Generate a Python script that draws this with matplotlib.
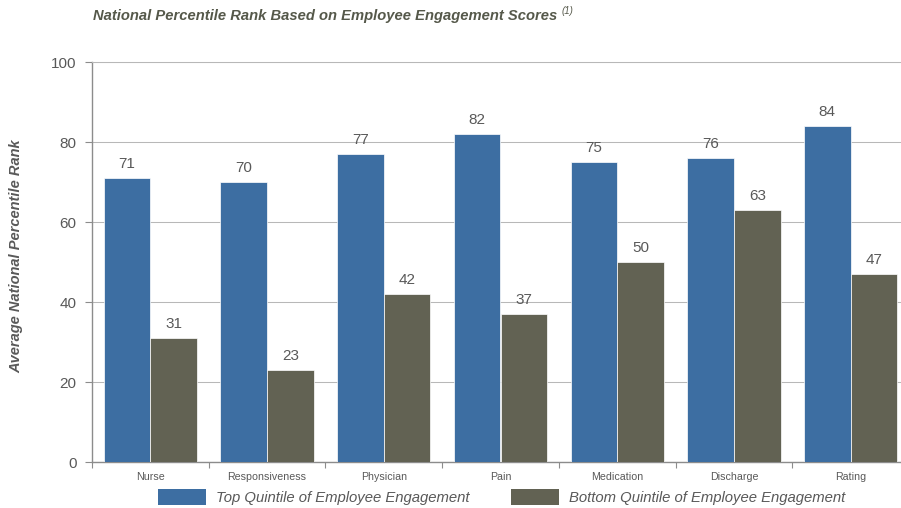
import numpy as np
import matplotlib.pyplot as plt
from matplotlib.patches import Patch

plt.rcParams['font.family'] = ['Liberation Sans', 'DejaVu Sans']

# Data
categories = ['Nurse', 'Responsiveness', 'Physician', 'Pain', 'Medication', 'Discharge', 'Rating']
top_quintile = [71, 70, 77, 82, 75, 76, 84]
bottom_quintile = [31, 23, 42, 37, 50, 63, 47]
series_names = ['Top Quintile of Employee Engagement', 'Bottom Quintile of Employee Engagement']

blue = '#3D6EA2'
grey = '#626253'
txt = '#595959'
axis_col = '#8C8C8C'
grid_col = '#B8B8B8'

W, H = 901, 508
fig = plt.figure(figsize=(W / 100, H / 100), dpi=100)
# axes run slightly past the right edge of the figure, like the original
ax = fig.add_axes([92 / W, 46 / H, 817 / W, 400 / H])

x = np.arange(len(categories))
w = 0.4
b1 = ax.bar(x - w / 2, top_quintile, w, color=blue, edgecolor='white', linewidth=0.5, zorder=3)
b2 = ax.bar(x + w / 2, bottom_quintile, w, color=grey, edgecolor='white', linewidth=0.5, zorder=3)

for bars in (b1, b2):
    for r in bars:
        ax.text(r.get_x() + r.get_width() / 2, r.get_height() + 1.8, f'{int(r.get_height())}',
                ha='center', va='bottom', fontsize=11, color=txt, zorder=4)

ax.set_ylim(0, 100)
ax.set_xlim(-0.5, 6.5)
ax.set_yticks(range(0, 101, 20))
ax.yaxis.grid(True, color=grid_col, linewidth=0.75, zorder=0)
ax.set_axisbelow(True)
ax.tick_params(axis='y', labelsize=11, labelcolor=txt, color=axis_col, length=5, direction='out', pad=6)

# category labels centered, ticks at boundaries
ax.set_xticks(np.arange(-0.5, 7, 1))
ax.set_xticklabels([])
ax.set_xticks(x, minor=True)
ax.set_xticklabels(categories, minor=True)
ax.tick_params(axis='x', which='major', color=axis_col, length=4, direction='out')
ax.tick_params(axis='x', which='minor', length=0, labelsize=7.7, labelcolor=txt, pad=7)

for s in ['left', 'bottom']:
    ax.spines[s].set_color(axis_col)
    ax.spines[s].set_linewidth(1)
ax.spines['top'].set_color(grid_col)
ax.spines['top'].set_linewidth(0.75)
ax.spines['right'].set_visible(False)

ax.set_ylabel('Average National Percentile Rank', fontsize=10.5, fontweight='bold',
              fontstyle='italic', color=txt)
ax.yaxis.set_label_coords(-0.084, 0.515)

title = fig.text(93 / W, 1 - 16 / H, 'National Percentile Rank Based on Employee Engagement Scores',
                 fontsize=10.6, fontweight='bold', fontstyle='italic', color='#55584A', va='center')
fig.canvas.draw()
bb = title.get_window_extent()
fig.text((bb.x1 + 4) / W, 1 - 11 / H, '(1)', fontsize=7, fontstyle='italic',
         color='#55584A', va='center')

handles = [Patch(facecolor=blue), Patch(facecolor=grey)]
fig.legend(handles, series_names, loc='center', bbox_to_anchor=(502 / W, 1 - 497 / H),
           ncol=2, frameon=False, prop={'size': 10.7, 'style': 'italic'}, labelcolor=txt,
           handlelength=3.2, handleheight=1.3, columnspacing=2.8, handletextpad=0.7)

plt.savefig('out.png', dpi=100)
